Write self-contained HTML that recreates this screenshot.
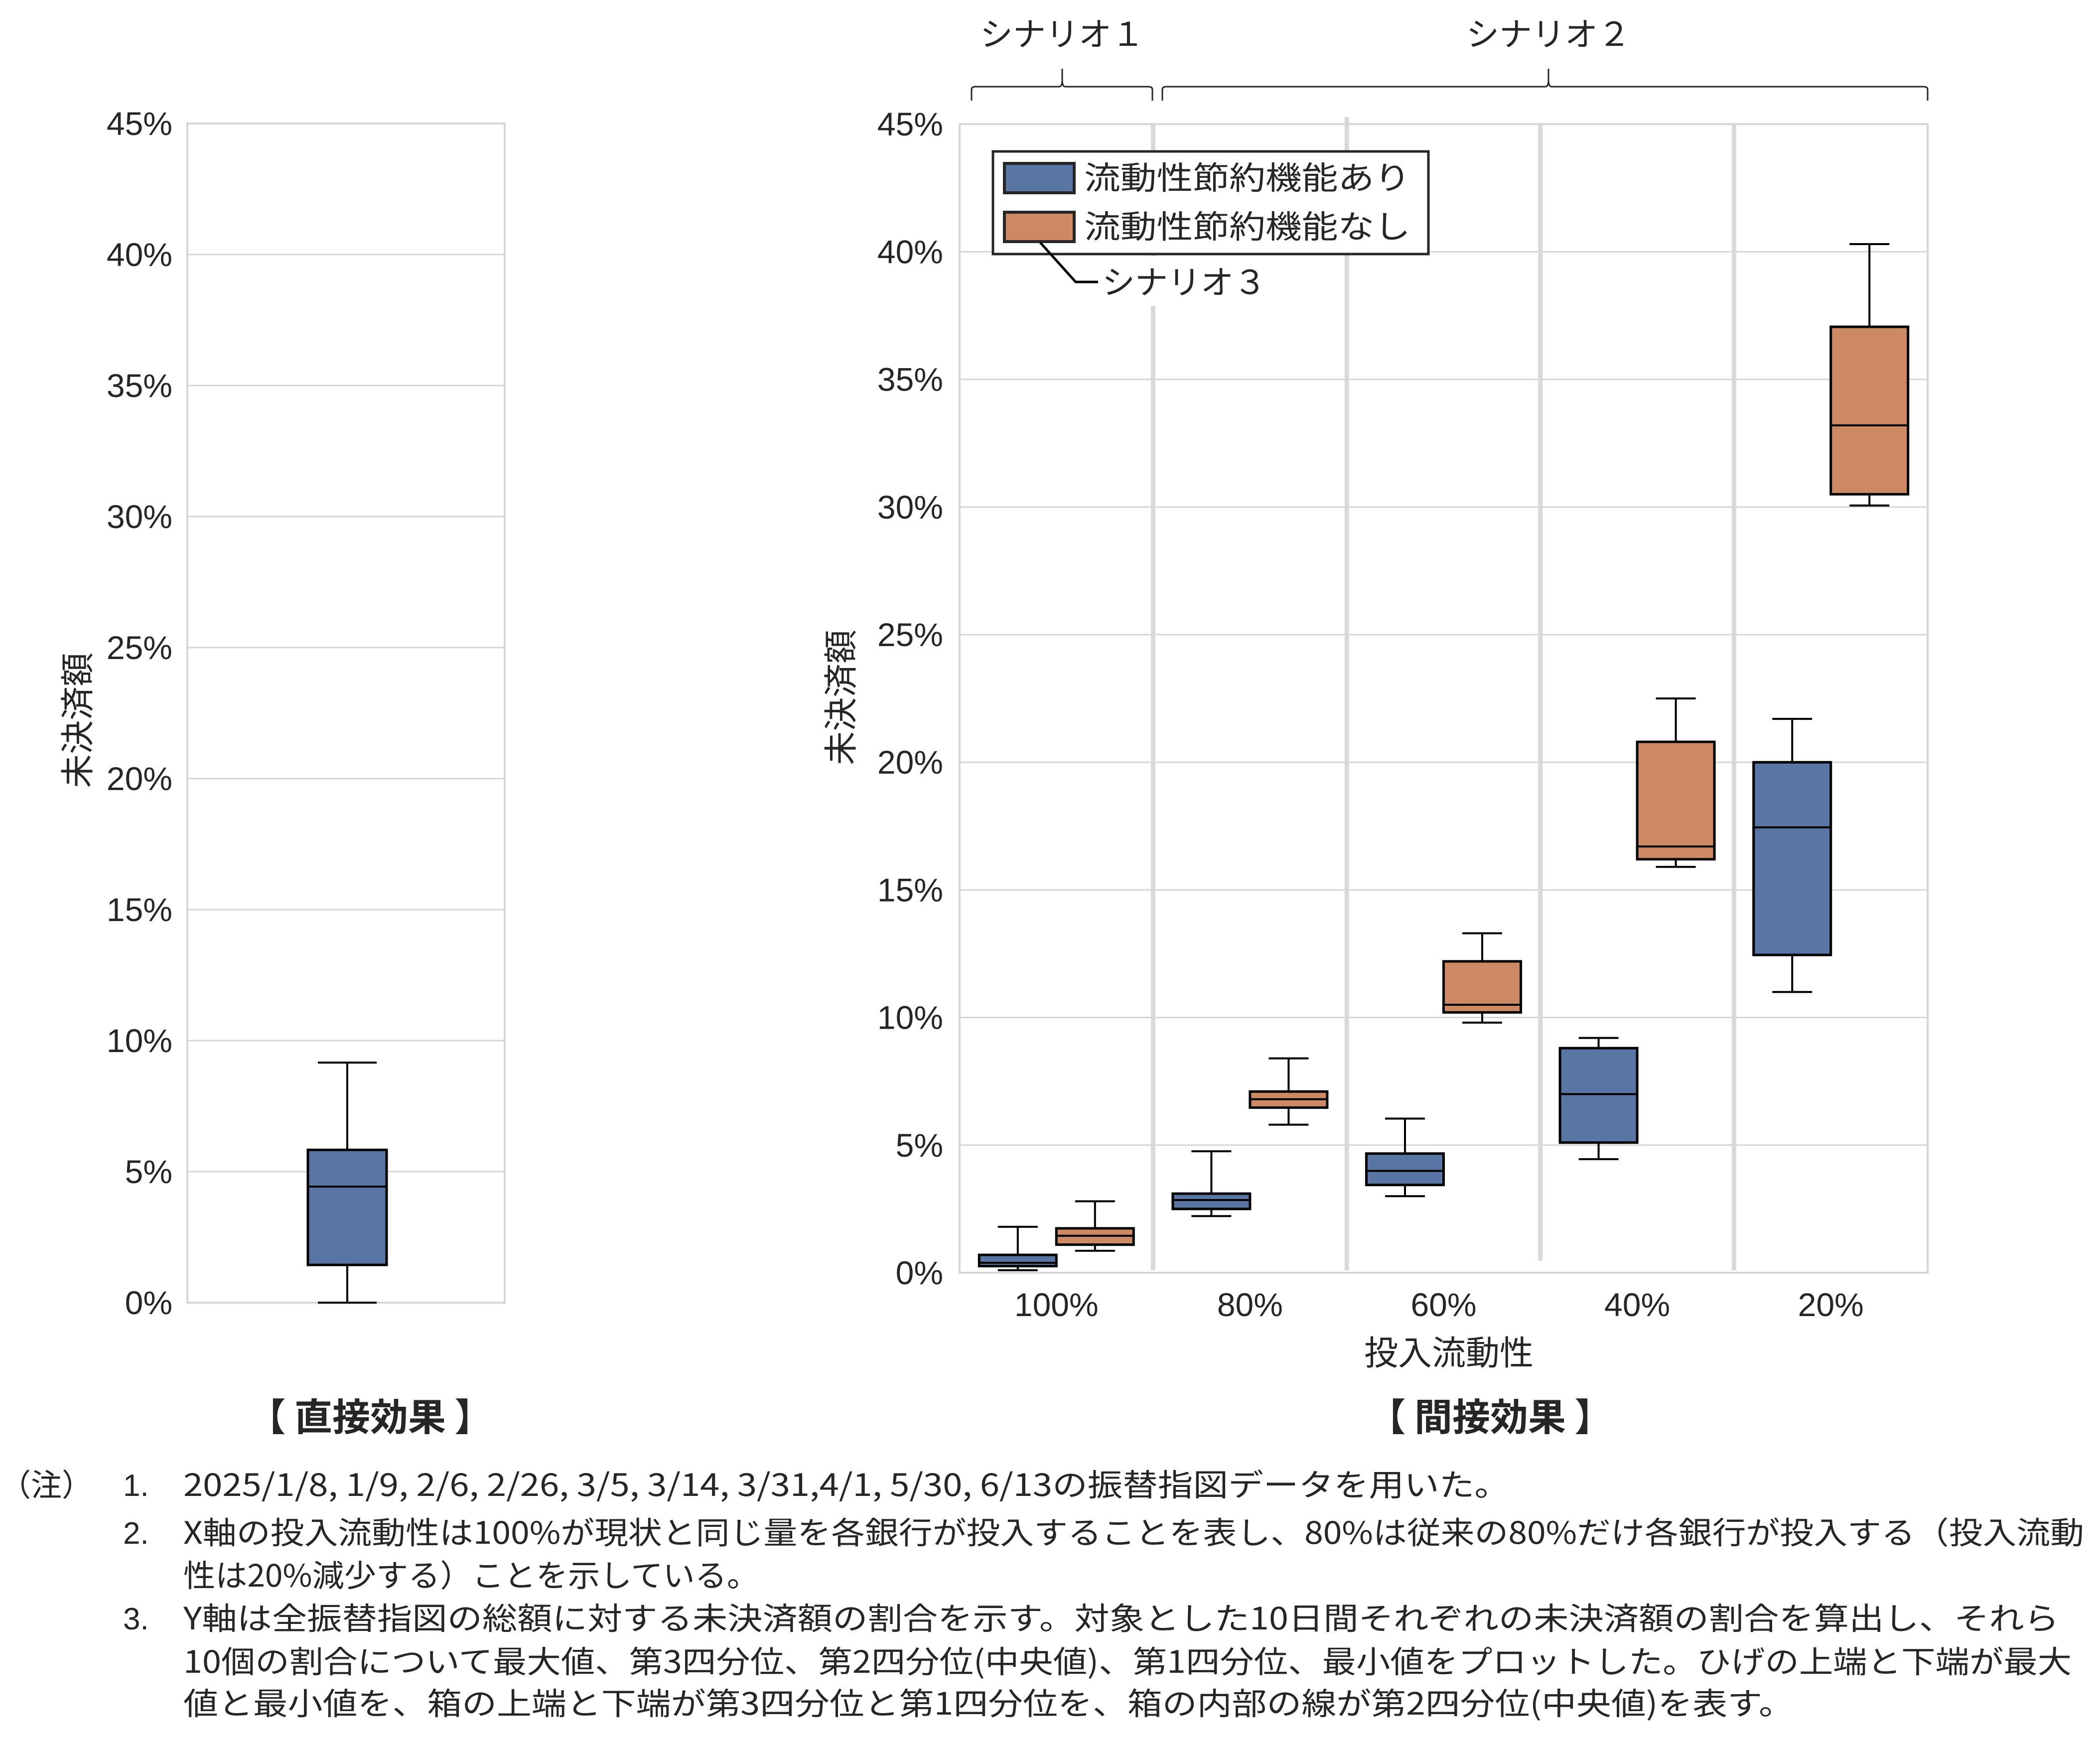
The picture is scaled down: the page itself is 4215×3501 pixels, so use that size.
<!DOCTYPE html>
<html><head><meta charset="utf-8">
<style>
html,body{margin:0;padding:0;background:#fff;}
svg{display:block;}
text{font-family:"Liberation Sans","Noto Sans CJK JP",sans-serif;fill:#262626;}
.jp{font-family:"Noto Sans CJK JP","Liberation Sans",sans-serif;}
</style></head>
<body>
<svg id="chart" width="4215" height="3501" viewBox="0 0 4215 3501" xmlns="http://www.w3.org/2000/svg">
<rect x="0" y="0" width="4215" height="3501" fill="#fff"/>
<g id="left"></g>
<g id="right"></g>
<g id="notes">
  <text x="0" y="3003" font-size="62" class="jp">（注）</text>
  <text x="247" y="3003" font-size="62">1.</text>
  <text x="368" y="3003" font-size="62" class="jp" textLength="2662" lengthAdjust="spacingAndGlyphs">2025/1/8, 1/9, 2/6, 2/26, 3/5, 3/14, 3/31,4/1, 5/30, 6/13の振替指図データを用いた。</text>
  <text x="247" y="3099" font-size="62">2.</text>
  <text x="368" y="3099" font-size="62" class="jp" textLength="3815" lengthAdjust="spacingAndGlyphs">X軸の投入流動性は100%が現状と同じ量を各銀行が投入することを表し、80%は従来の80%だけ各銀行が投入する（投入流動</text>
  <text x="368" y="3185" font-size="62" class="jp" textLength="1155" lengthAdjust="spacingAndGlyphs">性は20%減少する）ことを示している。</text>
  <text x="247" y="3271" font-size="62">3.</text>
  <text x="368" y="3271" font-size="62" class="jp" textLength="3765" lengthAdjust="spacingAndGlyphs">Y軸は全振替指図の総額に対する未決済額の割合を示す。対象とした10日間それぞれの未決済額の割合を算出し、それら</text>
  <text x="368" y="3358" font-size="62" class="jp" textLength="3790" lengthAdjust="spacingAndGlyphs">10個の割合について最大値、第3四分位、第2四分位(中央値)、第1四分位、最小値をプロットした。ひげの上端と下端が最大</text>
  <text x="368" y="3442" font-size="62" class="jp" textLength="3232" lengthAdjust="spacingAndGlyphs">値と最小値を、箱の上端と下端が第3四分位と第1四分位を、箱の内部の線が第2四分位(中央値)を表す。</text>
</g>
</svg>
<script>
// ---- data ----
const yTicks = [0, 5, 10, 15, 20, 25, 30, 35, 40, 45];
const categories = ["100%", "80%", "60%", "40%", "20%"];
const withMax = [1.8, 4.76, 6.04, 9.2, 21.7];
const withQ3  = [0.7, 3.1, 4.67, 8.8, 20.0];
const withMed = [0.39, 2.85, 3.99, 7.0, 17.45];
const withQ1  = [0.26, 2.5, 3.44, 5.1, 12.45];
const withMin = [0.1, 2.22, 3.0, 4.45, 11.0];
const withoutMax = [2.8, 8.4, 13.3, 22.5, 40.3];
const withoutQ3  = [1.74, 7.1, 12.2, 20.8, 37.06];
const withoutMed = [1.45, 6.8, 10.5, 16.7, 33.2];
const withoutQ1  = [1.1, 6.47, 10.2, 16.2, 30.5];
const withoutMin = [0.86, 5.8, 9.8, 15.9, 30.06];
const directStats = [0.0, 1.44, 4.43, 5.83, 9.16]; // min,Q1,med,Q3,max

const NS = "http://www.w3.org/2000/svg";
function mk(parent, tag, attrs){
  const e = document.createElementNS(NS, tag);
  for (const k in attrs) e.setAttribute(k, attrs[k]);
  parent.appendChild(e);
  return e;
}
const BLUE = "#5975a4", ORANGE = "#cc8963", GRID = "#d6d6d6";

function drawBox(g, cx, w, capW, y, mn, q1, md, q3, mx, color, name){
  const grp = mk(g, "g", {});
  
  
  mk(grp, "line", {x1:cx, x2:cx, y1:y(mx), y2:y(q3), stroke:"#000", "stroke-width":4});
  mk(grp, "line", {x1:cx, x2:cx, y1:y(q1), y2:y(mn), stroke:"#000", "stroke-width":4});
  mk(grp, "line", {x1:cx-capW/2, x2:cx+capW/2, y1:y(mx), y2:y(mx), stroke:"#000", "stroke-width":4});
  mk(grp, "line", {x1:cx-capW/2, x2:cx+capW/2, y1:y(mn), y2:y(mn), stroke:"#000", "stroke-width":4});
  mk(grp, "rect", {x:cx-w/2, y:y(q3), width:w, height:y(q1)-y(q3), fill:color, stroke:"#000", "stroke-width":5});
  mk(grp, "line", {x1:cx-w/2, x2:cx+w/2, y1:y(md), y2:y(md), stroke:"#000", "stroke-width":4});
}

// ---- left panel ----
(function(){
  const g = document.getElementById("left");
  const L=376, R=1013, y0=2615, per5=263;
  const y = v => y0 - v/5*per5;
  yTicks.forEach(t=>{
    if (t>0 && t<45) {
      const ln = mk(g,"line",{x1:L,x2:R,y1:y(t),y2:y(t),stroke:GRID,"stroke-width":3});
      
      
    }
    const tx = mk(g,"text",{x:346,y:y(t)+23,"font-size":66,"text-anchor":"end"});
    
    
    tx.textContent = t+"%";
  });
  const fr = mk(g,"rect",{x:L,y:y(45),width:R-L,height:y(0)-y(45),fill:"none",stroke:GRID,"stroke-width":4});
  
  
  drawBox(g, 697, 158, 118, y, directStats[0], directStats[1], directStats[2], directStats[3], directStats[4], BLUE, "direct-box");
  const yt = mk(g,"text",{x:0,y:0,"font-size":68,"text-anchor":"middle",class:"jp",transform:"translate(180,1446) rotate(-90)"});
  
  
  yt.textContent = "未決済額";
  const tt = mk(g,"text",{x:743,y:2872,"font-size":76,"font-weight":"bold","text-anchor":"middle",class:"jp"});
  
  
  tt.textContent = "【 直接効果 】";
})();

// ---- right panel ----
(function(){
  const g = document.getElementById("right");
  const L=1926, R=3869, y0=2555, per5=256.2;
  const y = v => y0 - v/5*per5;
  const cw = (R-L)/categories.length;
  const xc = i => L + cw*(i+0.5);
  yTicks.forEach(t=>{
    if (t>0 && t<45) {
      const ln = mk(g,"line",{x1:L,x2:R,y1:y(t),y2:y(t),stroke:GRID,"stroke-width":3});
      
      
    }
    const tx = mk(g,"text",{x:1893,y:y(t)+23,"font-size":66,"text-anchor":"end"});
    
    
    tx.textContent = t+"%";
  });
  for (let i=1;i<categories.length;i++){
    const x = L+cw*i;
    const top = (i===2)? 235 : y(45);
    const bot = (i===3)? 2531 : y(0)-5;
    const s = mk(g,"line",{x1:x,x2:x,y1:top,y2:bot,stroke:"#d9d9d9","stroke-width":9});
    
    
  }
  const fr = mk(g,"rect",{x:L,y:y(45),width:R-L,height:y(0)-y(45),fill:"none",stroke:GRID,"stroke-width":4});
  
  
  const bw = 155, cap = 80;
  categories.forEach((c,i)=>{
    drawBox(g, xc(i)-bw/2, bw, cap, y, withMin[i], withQ1[i], withMed[i], withQ3[i], withMax[i], BLUE, "box-with-saving-"+c);
    drawBox(g, xc(i)+bw/2, bw, cap, y, withoutMin[i], withoutQ1[i], withoutMed[i], withoutQ3[i], withoutMax[i], ORANGE, "box-without-saving-"+c);
    const tx = mk(g,"text",{x:xc(i),y:2642,"font-size":66,"text-anchor":"middle"});
    
    
    tx.textContent = c;
  });
  const xt = mk(g,"text",{x:2908,y:2740,"font-size":68,"text-anchor":"middle",class:"jp"});
  
  
  xt.textContent = "投入流動性";
  const yt = mk(g,"text",{x:0,y:0,"font-size":68,"text-anchor":"middle",class:"jp",transform:"translate(1712,1400) rotate(-90)"});
  
  
  yt.textContent = "未決済額";
  const tt = mk(g,"text",{x:2991,y:2872,"font-size":76,"font-weight":"bold","text-anchor":"middle",class:"jp"});
  
  
  tt.textContent = "【 間接効果 】";

  const brk = (x1,x2,xm,label,name)=>{
    const bg = mk(g,"g",{});
    
    
    mk(bg,"path",{d:`M${x1} 202 L${x1} 180 Q${x1} 174 ${x1+8} 174 L${xm-6} 174 Q${xm} 174 ${xm} 160 L${xm} 138 M${xm} 160 Q${xm} 174 ${xm+6} 174 L${x2-8} 174 Q${x2} 174 ${x2} 180 L${x2} 202`,fill:"none",stroke:"#262626","stroke-width":3});
    const t = mk(bg,"text",{x:xm,y:92,"font-size":66,"text-anchor":"middle",class:"jp"});
    t.textContent = label;
  };
  brk(1950,2313,2132,"シナリオ１","scenario-1-bracket");
  brk(2333,3869,3108,"シナリオ２","scenario-2-bracket");

  const lg = mk(g,"g",{});
  
  
  mk(lg,"rect",{x:1993,y:304,width:874,height:206,fill:"#fff",stroke:"#262626","stroke-width":5});
  const e1 = mk(lg,"g",{});
  
  
  mk(e1,"rect",{x:2016,y:328,width:140,height:59,fill:BLUE,stroke:"#262626","stroke-width":6});
  const t1 = mk(e1,"text",{x:2176,y:380,"font-size":64,class:"jp",textLength:655,lengthAdjust:"spacingAndGlyphs"});
  t1.textContent = "流動性節約機能あり";
  const e2 = mk(lg,"g",{});
  
  
  mk(e2,"rect",{x:2016,y:426,width:140,height:59,fill:ORANGE,stroke:"#262626","stroke-width":6});
  const t2 = mk(e2,"text",{x:2176,y:478,"font-size":64,class:"jp",textLength:655,lengthAdjust:"spacingAndGlyphs"});
  t2.textContent = "流動性節約機能なし";

  const an = mk(g,"g",{});
  
  
  mk(an,"rect",{x:2300,y:514,width:60,height:100,fill:"#fff"});
  mk(an,"path",{d:"M2088 487 L2159 566 L2204 566",fill:"none",stroke:"#000","stroke-width":5});
  const t3 = mk(an,"text",{x:2212,y:590,"font-size":66,class:"jp"});
  t3.textContent = "シナリオ３";
})();
</script>
</body></html>
